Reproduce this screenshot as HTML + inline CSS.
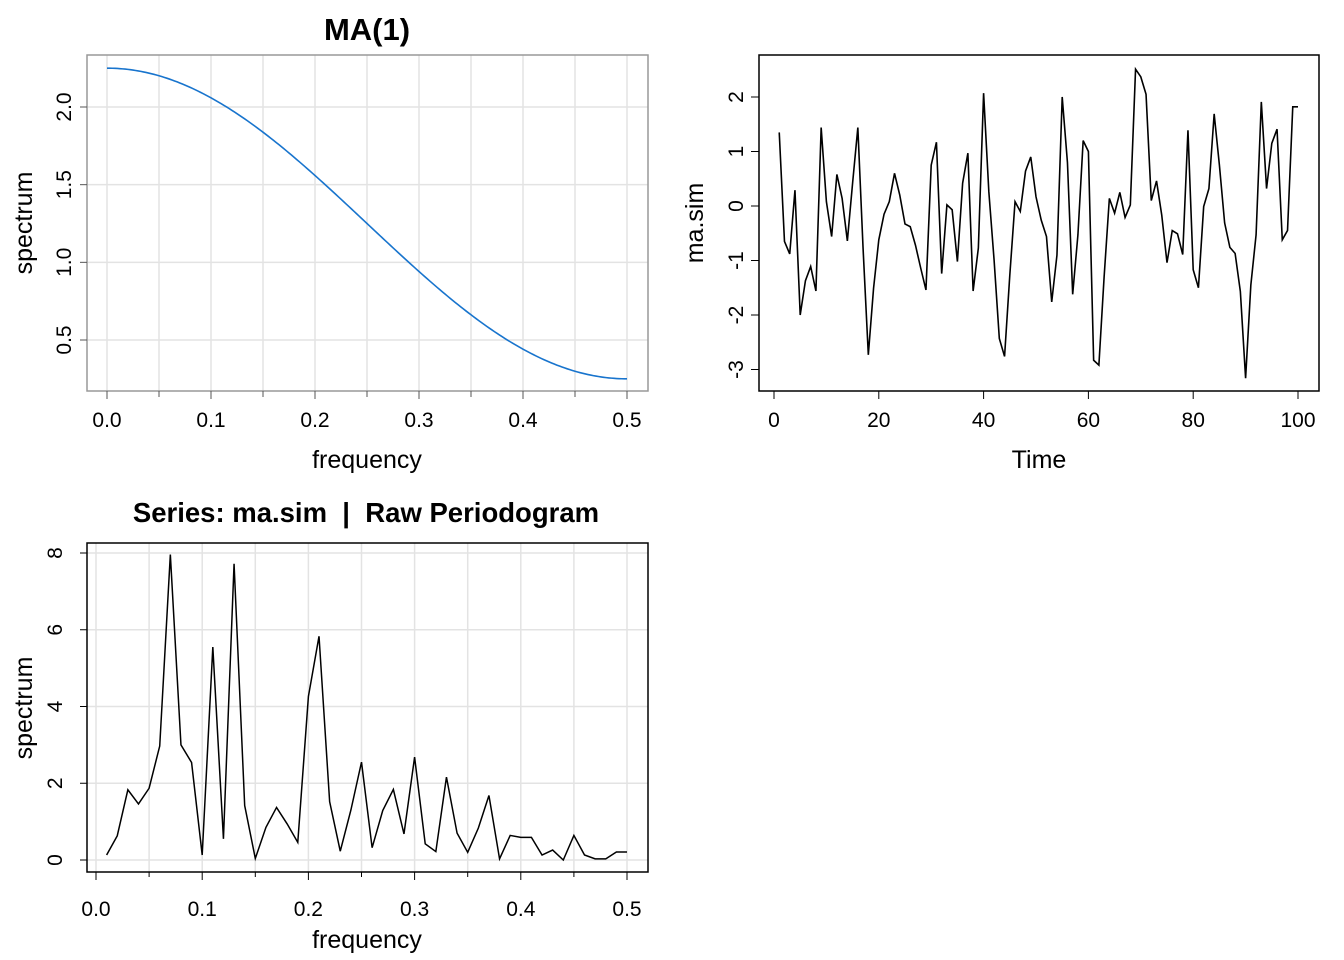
<!DOCTYPE html>
<html><head><meta charset="utf-8"><style>
body{margin:0;background:#fff;}
svg{display:block;font-family:"Liberation Sans",Arial,sans-serif;}
</style></head><body>
<svg id="c" width="1344" height="960" viewBox="0 0 1344 960">
<rect width="1344" height="960" fill="#fff"/>
<g id="p1"></g>
<g id="p2"></g>
<g id="p3"></g>
</svg>
<script>
// Panel 1: theoretical MA(1) spectrum
const maTheta = [0.5];
const p1XTicks = [0.0,0.1,0.2,0.3,0.4,0.5];
const p1YTicks = [0.5,1.0,1.5,2.0];
// Panel 2: simulated series
const maSim = [1.35,-0.65,-0.88,0.29,-2.0,-1.37,-1.11,-1.56,1.44,0.08,
-0.56,0.58,0.14,-0.64,0.42,1.44,-0.78,-2.73,-1.51,-0.62,
-0.15,0.08,0.6,0.2,-0.33,-0.38,-0.72,-1.14,-1.54,0.75,
1.17,-1.24,0.02,-0.07,-1.02,0.42,0.97,-1.56,-0.77,2.07,
0.26,-0.99,-2.43,-2.76,-1.27,0.08,-0.1,0.64,0.9,0.17,
-0.26,-0.56,-1.76,-0.9,2.0,0.8,-1.62,-0.53,1.2,1.0,
-2.83,-2.92,-1.3,0.14,-0.13,0.25,-0.21,0.02,2.51,2.37,
2.05,0.1,0.46,-0.17,-1.04,-0.45,-0.51,-0.89,1.39,-1.17,
-1.5,-0.01,0.32,1.69,0.75,-0.31,-0.76,-0.87,-1.57,-3.16,
-1.45,-0.53,1.91,0.32,1.15,1.41,-0.62,-0.45,1.82,1.82];
const p2XTicks = [0,20,40,60,80,100];
const p2YTicks = [-3,-2,-1,0,1,2];
// Panel 3: raw periodogram
const pgram = [0.13,0.63,1.83,1.46,1.87,2.97,7.96,3.0,2.54,0.13,
5.55,0.55,7.72,1.42,0.04,0.85,1.37,0.94,0.46,4.26,
5.83,1.52,0.23,1.3,2.55,0.32,1.29,1.84,0.68,2.68,
0.42,0.22,2.16,0.7,0.2,0.83,1.68,0.03,0.64,0.59,
0.59,0.13,0.26,0.0,0.64,0.13,0.03,0.03,0.21,0.21];
const p3XTicks = [0.0,0.1,0.2,0.3,0.4,0.5];
const p3YTicks = [0,2,4,6,8];

const NS='http://www.w3.org/2000/svg';
function mk(parent,tag,attrs,txt){const e=document.createElementNS(NS,tag);for(const k in attrs)e.setAttribute(k,attrs[k]);if(txt!==undefined)e.textContent=txt;parent.appendChild(e);return e;}
function lin(d0,d1,r0,r1){return v=>r0+(v-d0)/(d1-d0)*(r1-r0);}
function fmt1(v){return v.toFixed(1);}
const TF=21;

// ---------- Panel 1 ----------
(function(){
const g=document.getElementById('p1');
const x=lin(0,0.5,107,627), y=lin(0.5,2.0,340,107);
for(let f=0;f<=0.5001;f+=0.05){const l=mk(g,'line',{x1:x(f),x2:x(f),y1:55,y2:391,stroke:'#e3e3e3','stroke-width':1.5});

}
p1YTicks.forEach(v=>{const l=mk(g,'line',{x1:87,x2:648,y1:y(v),y2:y(v),stroke:'#e3e3e3','stroke-width':1.5});

});
const th=maTheta[0];let d='';
for(let i=0;i<=200;i++){const f=i/400;const s=1+th*th+2*th*Math.cos(2*Math.PI*f);d+=(i?'L':'M')+x(f).toFixed(2)+','+y(s).toFixed(2);}
const p=mk(g,'path',{d:d,fill:'none',stroke:'#1874cd','stroke-width':1.6});


const b=mk(g,'rect',{x:87,y:55,width:561,height:336,fill:'none',stroke:'#999','stroke-width':1.5});


for(let f=0;f<=0.5001;f+=0.05){const maj=Math.round(f*100)%10===0;mk(g,'line',{x1:x(f),x2:x(f),y1:391,y2:maj?399:397,stroke:'#555','stroke-width':1});}
p1XTicks.forEach(v=>{const t=mk(g,'text',{x:x(v),y:427,'text-anchor':'middle','font-size':TF},fmt1(v));

});
p1YTicks.forEach(v=>{mk(g,'line',{x1:80,x2:87,y1:y(v),y2:y(v),stroke:'#555'});
const t=mk(g,'text',{x:0,y:0,'text-anchor':'middle','font-size':TF,transform:`translate(71,${y(v)}) rotate(-90)`},fmt1(v));

});
const t1=mk(g,'text',{x:367,y:40,'text-anchor':'middle','font-size':31,'font-weight':'bold'},'MA(1)');


const xl=mk(g,'text',{x:367,y:468,'text-anchor':'middle','font-size':25},'frequency');


const yl=mk(g,'text',{x:0,y:0,'text-anchor':'middle','font-size':25,transform:'translate(32,223) rotate(-90)'},'spectrum');


})();

// ---------- Panel 2 ----------
(function(){
const g=document.getElementById('p2');
const x=lin(0,100,774,1298), y=lin(0,2,206,97);
let d='';maSim.forEach((v,i)=>{d+=(i?'L':'M')+x(i+1).toFixed(2)+','+y(v).toFixed(2);});
const p=mk(g,'path',{d:d,fill:'none',stroke:'#000','stroke-width':1.6,'stroke-linejoin':'miter'});


const b=mk(g,'rect',{x:759,y:55,width:560,height:336,fill:'none',stroke:'#000','stroke-width':1.5});


p2XTicks.forEach(v=>{mk(g,'line',{x1:x(v),x2:x(v),y1:391,y2:399,stroke:'#000'});
const t=mk(g,'text',{x:x(v),y:427,'text-anchor':'middle','font-size':TF},String(v));

});
p2YTicks.forEach(v=>{mk(g,'line',{x1:751,x2:759,y1:y(v),y2:y(v),stroke:'#000'});
const t=mk(g,'text',{x:0,y:0,'text-anchor':'middle','font-size':TF,transform:`translate(743,${y(v)}) rotate(-90)`},String(v));

});
const xl=mk(g,'text',{x:1039,y:468,'text-anchor':'middle','font-size':25},'Time');


const yl=mk(g,'text',{x:0,y:0,'text-anchor':'middle','font-size':25,transform:'translate(703,223) rotate(-90)'},'ma.sim');


})();

// ---------- Panel 3 ----------
(function(){
const g=document.getElementById('p3');
const x=lin(0,0.5,96,627), y=lin(0,8,860,553);
for(let f=0;f<=0.5001;f+=0.05){const l=mk(g,'line',{x1:x(f),x2:x(f),y1:543,y2:872,stroke:'#e3e3e3','stroke-width':1.5});

}
p3YTicks.forEach(v=>{const l=mk(g,'line',{x1:87,x2:648,y1:y(v),y2:y(v),stroke:'#e3e3e3','stroke-width':1.5});

});
let d='';pgram.forEach((v,i)=>{d+=(i?'L':'M')+x((i+1)/100).toFixed(2)+','+y(v).toFixed(2);});
const p=mk(g,'path',{d:d,fill:'none',stroke:'#000','stroke-width':1.5});


const b=mk(g,'rect',{x:87,y:543,width:561,height:329,fill:'none',stroke:'#000','stroke-width':1.5});


for(let f=0;f<=0.5001;f+=0.05){const maj=Math.round(f*100)%10===0;mk(g,'line',{x1:x(f),x2:x(f),y1:872,y2:maj?880:877,stroke:'#000'});}
p3XTicks.forEach(v=>{const t=mk(g,'text',{x:x(v),y:916,'text-anchor':'middle','font-size':TF},fmt1(v));

});
p3YTicks.forEach(v=>{mk(g,'line',{x1:80,x2:87,y1:y(v),y2:y(v),stroke:'#000'});
const t=mk(g,'text',{x:0,y:0,'text-anchor':'middle','font-size':TF,transform:`translate(62,${y(v)}) rotate(-90)`},String(v));

});
const t1=mk(g,'text',{x:366,y:522,'text-anchor':'middle','font-size':27.5,'font-weight':'bold'},'Series: ma.sim\u00a0\u00a0|\u00a0\u00a0Raw Periodogram');


const xl=mk(g,'text',{x:367,y:948,'text-anchor':'middle','font-size':25},'frequency');


const yl=mk(g,'text',{x:0,y:0,'text-anchor':'middle','font-size':25,transform:'translate(32,708) rotate(-90)'},'spectrum');


})();
</script>
</body></html>
